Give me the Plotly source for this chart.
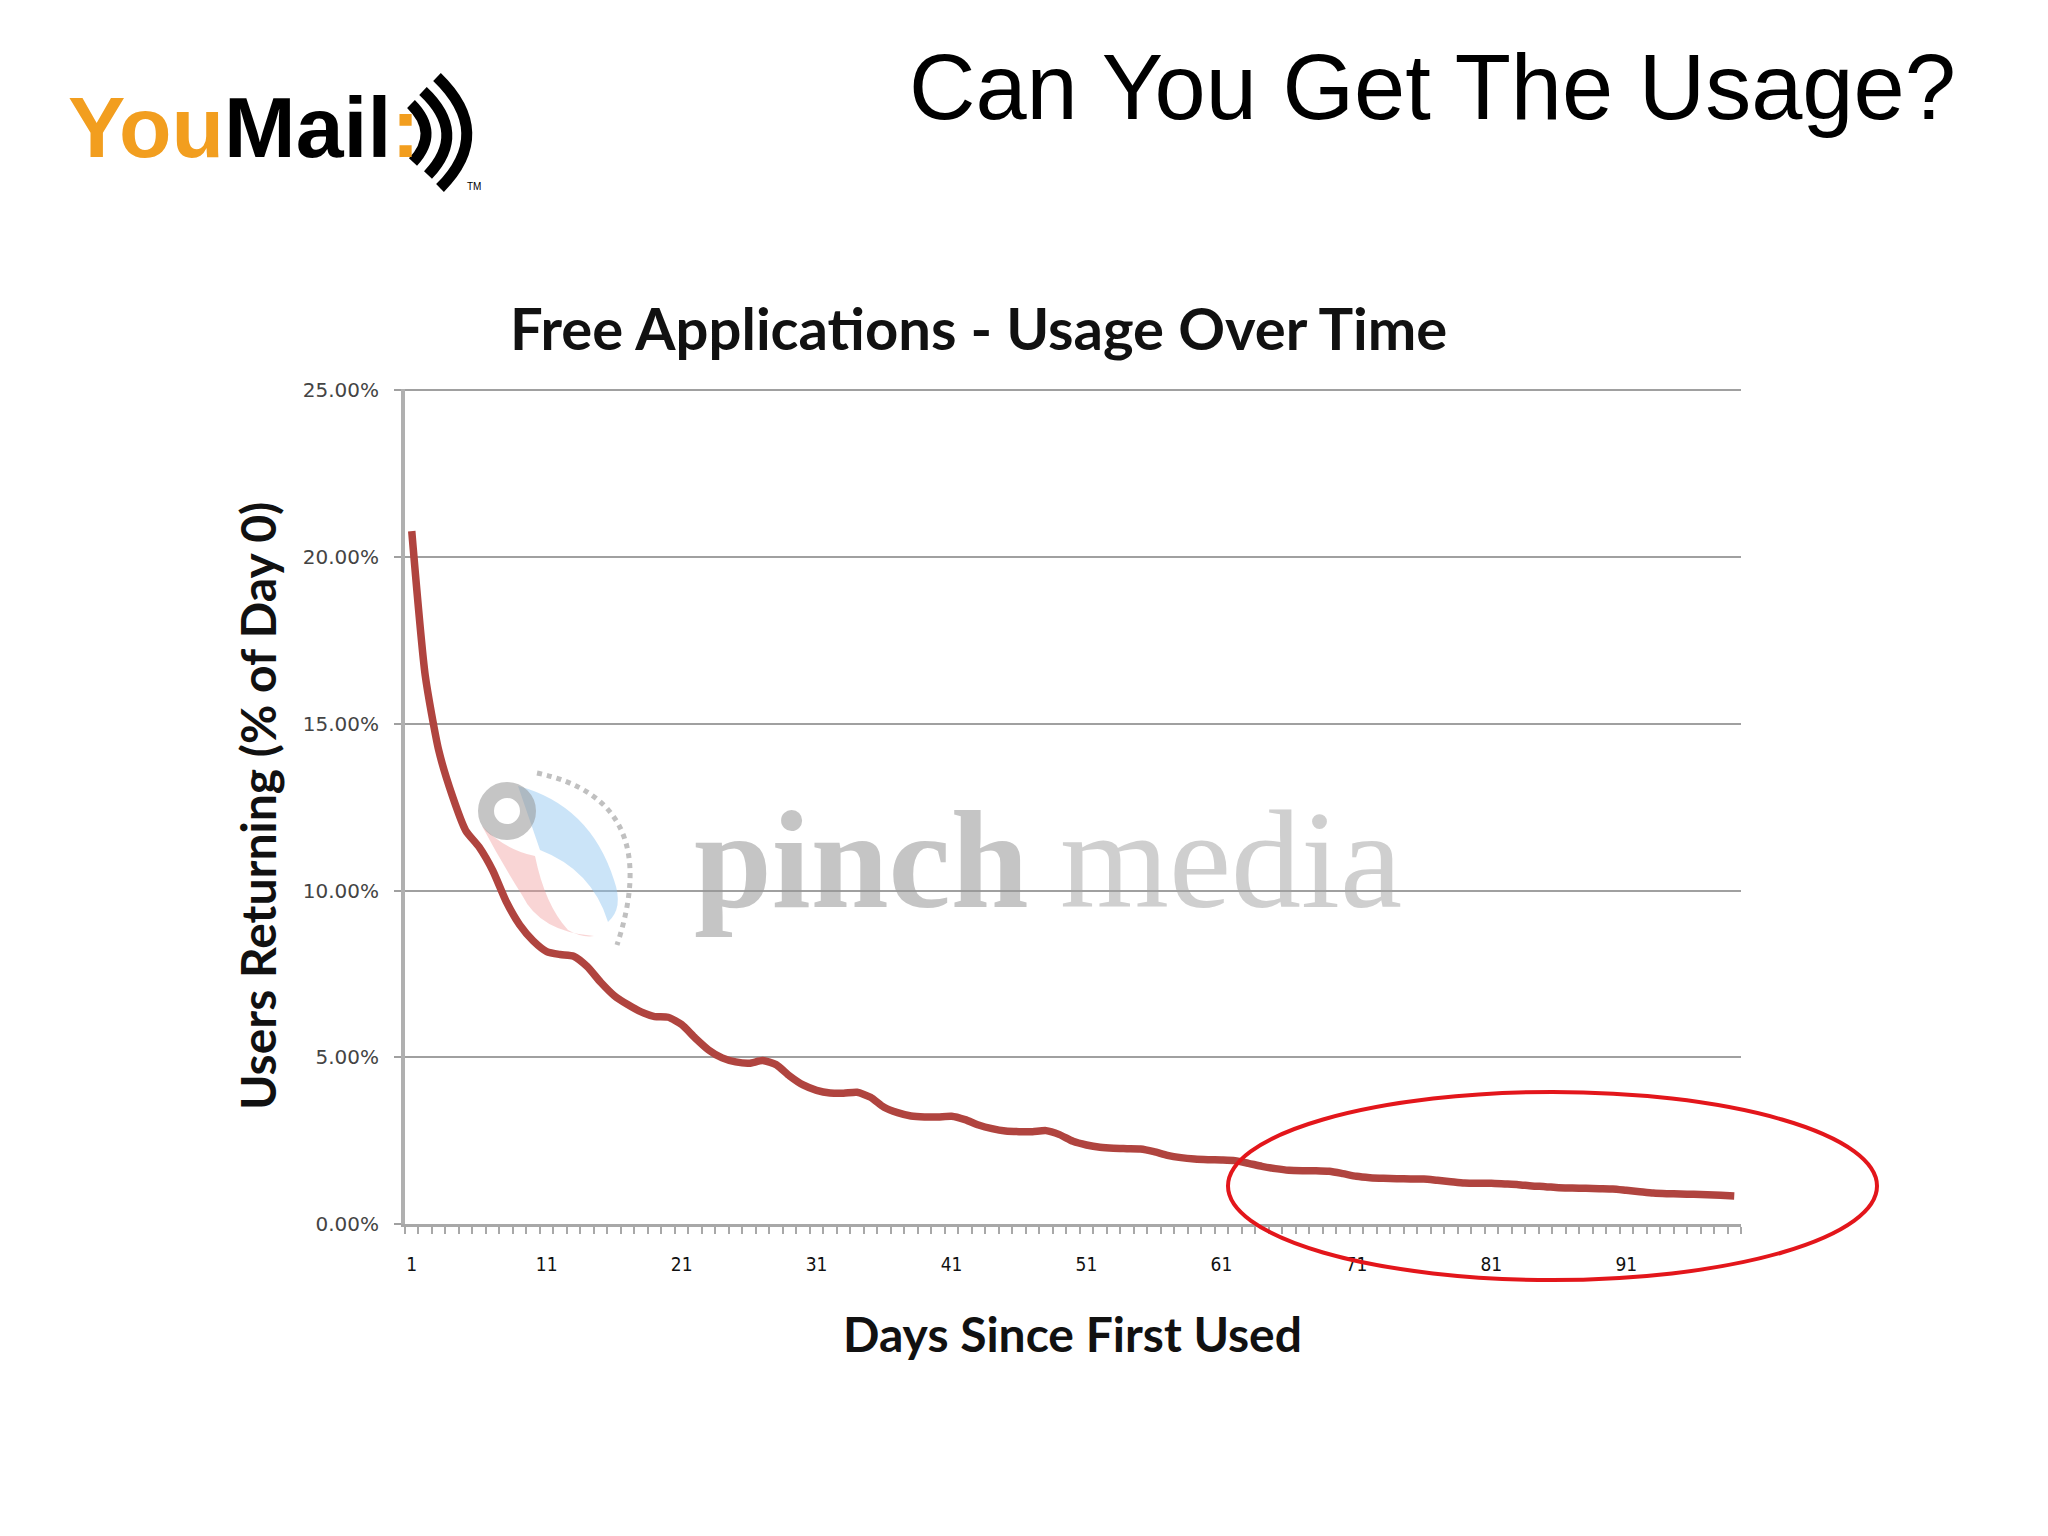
import plotly.graph_objects as go

# ---------------- data ----------------
days = list(range(1, 100))
users_returning_pct = [
    20.78, 16.45, 14.20, 12.85, 11.80, 11.30, 10.60, 9.67, 8.97, 8.49,
    8.17, 8.08, 8.03, 7.72, 7.25, 6.85, 6.58, 6.36, 6.22, 6.20,
    5.98, 5.58, 5.22, 4.98, 4.86, 4.82, 4.90, 4.78, 4.44, 4.17,
    4.01, 3.93, 3.92, 3.95, 3.80, 3.50, 3.34, 3.24, 3.21, 3.21,
    3.23, 3.13, 2.97, 2.86, 2.79, 2.77, 2.77, 2.80, 2.68, 2.48,
    2.37, 2.30, 2.27, 2.26, 2.25, 2.17, 2.06, 1.99, 1.95, 1.93,
    1.92, 1.90, 1.82, 1.73, 1.66, 1.61, 1.60, 1.60, 1.58, 1.51,
    1.43, 1.39, 1.37, 1.36, 1.35, 1.35, 1.31, 1.27, 1.23, 1.22,
    1.22, 1.20, 1.18, 1.14, 1.12, 1.09, 1.08, 1.07, 1.06, 1.05,
    1.01, 0.97, 0.93, 0.91, 0.90, 0.89, 0.88, 0.86, 0.84,
]
x_tick_vals = [1, 11, 21, 31, 41, 51, 61, 71, 81, 91]
x_tick_text = [str(v) for v in x_tick_vals]
y_tick_vals = [0, 5, 10, 15, 20, 25]

# ---------------- geometry (page pixels) ----------------
OFF = 8  # default body margin of the html page
W, H = 2048 - 2 * OFF, 1536 - 2 * OFF
PL, PR, PT, PB = 405, 1741, 389, 1224  # plot area on the page


def px(X):
    return (X - PL) / (PR - PL)


def py(Y):
    return (PB - Y) / (PB - PT)


def path(points, close=False, curve=False):
    s = "M {:.5f},{:.5f}".format(px(points[0][0]), py(points[0][1]))
    if curve:
        i = 1
        while i + 1 < len(points):
            s += " Q {:.5f},{:.5f} {:.5f},{:.5f}".format(
                px(points[i][0]), py(points[i][1]), px(points[i + 1][0]), py(points[i + 1][1]))
            i += 2
    else:
        for p in points[1:]:
            s += " L {:.5f},{:.5f}".format(px(p[0]), py(p[1]))
    if close:
        s += " Z"
    return s


fig = go.Figure()
fig.add_trace(go.Scatter(
    x=days, y=users_returning_pct, mode="lines",
    line=dict(color="#B0443F", width=7.5, shape="spline", smoothing=0.6),
    hoverinfo="skip", showlegend=False,
))

label_font = "Lato, 'Open Sans', sans-serif"

fig.update_layout(
    width=W, height=H,
    margin=dict(l=PL - OFF, r=W - (PR - OFF), t=PT - OFF, b=H - (PB - OFF), pad=0),
    paper_bgcolor="white", plot_bgcolor="white",
    showlegend=False,
    xaxis=dict(
        range=[0.5, 99.5], tickmode="array", tickvals=x_tick_vals, ticktext=x_tick_text,
        ticks="", showgrid=False, zeroline=False,
        showline=True, linecolor="#A8A8A8", linewidth=3,
        tickfont=dict(family="DejaVu Sans Condensed, DejaVu Sans", size=19, color="#111"),
        ticklabelstandoff=21,
        minor=dict(tickmode="linear", tick0=0.5, dtick=1, ticks="outside", ticklen=7,
                   tickwidth=2, tickcolor="#A8A8A8", showgrid=False),
    ),
    yaxis=dict(
        range=[0, 25.04], tickmode="array", tickvals=y_tick_vals,
        ticktext=["{:.2f}%".format(v) for v in y_tick_vals],
        ticks="outside", ticklen=7, tickwidth=2, tickcolor="#A0A0A0",
        showgrid=True, gridcolor="#A0A0A0", gridwidth=2, zeroline=False,
        showline=True, linecolor="#B0B0B0", linewidth=4,
        tickfont=dict(family="DejaVu Sans", size=20, color="#444"),
        ticklabelstandoff=11,
    ),
)

annotations = [
    # slide title
    dict(text="Can You Get The Usage?", x=px(1432), y=py(87), xanchor="center", yanchor="middle",
         font=dict(family="Liberation Sans, Arial", size=92, color="#000")),
    # chart title
    dict(text="<b>Free Applications - Usage Over Time</b>", x=px(978), y=py(327),
         xanchor="center", yanchor="middle",
         font=dict(family=label_font, size=58, color="#111")),
    # axis titles
    dict(text="<b>Users Returning (% of Day 0)</b>", x=px(257), y=py(806), textangle=-90,
         xanchor="center", yanchor="middle",
         font=dict(family=label_font, size=48, color="#111")),
    dict(text="<b>Days Since First Used</b>", x=px(1072), y=py(1333),
         xanchor="center", yanchor="middle",
         font=dict(family=label_font, size=48, color="#111")),
    # logo text
    dict(text="<b><span style='color:#F29E1F'>You</span>Mail<span style='color:#F29E1F'>:</span></b>",
         x=px(66), y=py(127), xanchor="left", yanchor="middle",
         font=dict(family="Liberation Sans, Arial", size=86, color="#000")),
    dict(text="TM", x=px(474), y=py(186), xanchor="center", yanchor="middle",
         font=dict(family="Liberation Sans, Arial", size=10, color="#000")),
    # watermark
    dict(text="<b>pinch</b>", x=px(692), y=py(859), xanchor="left", yanchor="middle",
         font=dict(family="Liberation Serif", size=140, color="rgba(150,150,150,0.55)")),
    dict(text="media", x=px(1058), y=py(859), xanchor="left", yanchor="middle",
         font=dict(family="Liberation Serif", size=140, color="rgba(160,160,160,0.5)")),
]
for a in annotations:
    a.update(xref="paper", yref="paper", showarrow=False)
fig.update_layout(annotations=annotations)

shapes = []
# logo sound waves
for top, mid, bot in [((411, 104), (440, 133), (413, 162)),
                      ((423, 91), (468, 133), (428, 175)),
                      ((437, 77), (495, 133), (440, 188))]:
    shapes.append(dict(type="path", path=path([top, mid, bot], curve=True),
                       line=dict(color="#000", width=11)))
# pinch media icon (watermark)
shapes.append(dict(type="path",
                   path=path([(518, 786), (590, 805), (614, 880), (624, 908), (608, 922),
                              (592, 870), (540, 850)], close=True, curve=True),
                   fillcolor="rgba(140,195,240,0.45)", line=dict(width=0)))
shapes.append(dict(type="path",
                   path=path([(482, 826), (505, 850), (535, 856), (545, 905), (568, 930),
                              (582, 938), (594, 936), (540, 932), (522, 895), (500, 860), (482, 826)],
                             close=True, curve=True),
                   fillcolor="rgba(240,150,150,0.4)", line=dict(width=0)))
shapes.append(dict(type="circle", x0=px(507 - 21), x1=px(507 + 21), y0=py(811 + 21), y1=py(811 - 21),
                   line=dict(color="rgba(150,150,150,0.55)", width=16)))
shapes.append(dict(type="path", path=path([(537, 773), (665, 800), (617, 945)], curve=True),
                   line=dict(color="rgba(150,150,150,0.6)", width=5, dash="dot")))
# red ellipse highlight
shapes.append(dict(type="circle", x0=px(1228), x1=px(1877), y0=py(1280), y1=py(1092),
                   line=dict(color="#E3161B", width=4)))
for s in shapes:
    s.update(xref="paper", yref="paper")
fig.update_layout(shapes=shapes)

fig.write_html("out.html")
